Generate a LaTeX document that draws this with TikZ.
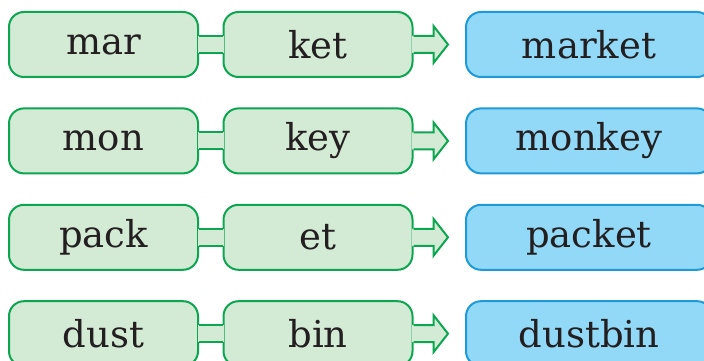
\documentclass[tikz,border=0pt]{standalone}
\usepackage{fontspec}
\setmainfont{DejaVu Serif}
\usepackage{xcolor}
\definecolor{part-fill}{HTML}{D3EAD5}
\definecolor{part-line}{HTML}{0CA650}
\definecolor{word-fill}{HTML}{92D9F8}
\definecolor{word-line}{HTML}{1E9AD7}
\definecolor{ink}{HTML}{231F20}
\usetikzlibrary{calc}

\begin{document}
\begin{tikzpicture}[x=1pt, y=-1pt, line width=2pt,
    every node/.style={font=\fontsize{37}{44}\selectfont, text=ink},
    partbox/.style={draw=part-line, fill=part-fill, rounded corners=15pt,
      minimum width=189pt, minimum height=65pt, inner sep=0pt},
    wordbox/.style={draw=word-line, fill=word-fill, rounded corners=15pt,
      minimum width=246pt, minimum height=65pt, inner sep=0pt}]
    \clip (0,0) rectangle (704,361);
    \foreach \i/\pa/\pb/\whole in {0/mar/ket/market,1/mon/key/monkey,2/pack/et/packet,3/dust/bin/dustbin} {
      \node[partbox] (a\i) at (103.5, 44.5+96.4*\i) {\pa};
      \node[partbox] (b\i) at (318, 44.5+96.4*\i) {\pb};
      \node[wordbox] (w\i) at (589, 44.5+96.4*\i) {\whole};
      % joint between the two parts
      \fill[part-fill] ([xshift=-1.5pt, yshift=8.5pt]a\i.east) rectangle ([xshift=1.5pt, yshift=-8.5pt]b\i.west);
      \draw[part-line] ([yshift=8.5pt]a\i.east) -- ([yshift=8.5pt]b\i.west);
      \draw[part-line] ([yshift=-8.5pt]a\i.east) -- ([yshift=-8.5pt]b\i.west);
      % block arrow
      \fill[part-fill] ([xshift=-1.5pt, yshift=8.5pt]b\i.east) -- ([xshift=20pt, yshift=8.5pt]b\i.east)
        -- ([xshift=20pt, yshift=18.5pt]b\i.east) -- ([xshift=-17pt]w\i.west)
        -- ([xshift=20pt, yshift=-18.5pt]b\i.east) -- ([xshift=20pt, yshift=-8.5pt]b\i.east)
        -- ([xshift=-1.5pt, yshift=-8.5pt]b\i.east) -- cycle;
      \draw[part-line] ([yshift=8.5pt]b\i.east) -- ([xshift=20pt, yshift=8.5pt]b\i.east)
        -- ([xshift=20pt, yshift=18.5pt]b\i.east) -- ([xshift=-17pt]w\i.west)
        -- ([xshift=20pt, yshift=-18.5pt]b\i.east) -- ([xshift=20pt, yshift=-8.5pt]b\i.east)
        -- ([yshift=-8.5pt]b\i.east);
    }
  \end{tikzpicture}
\end{document}
